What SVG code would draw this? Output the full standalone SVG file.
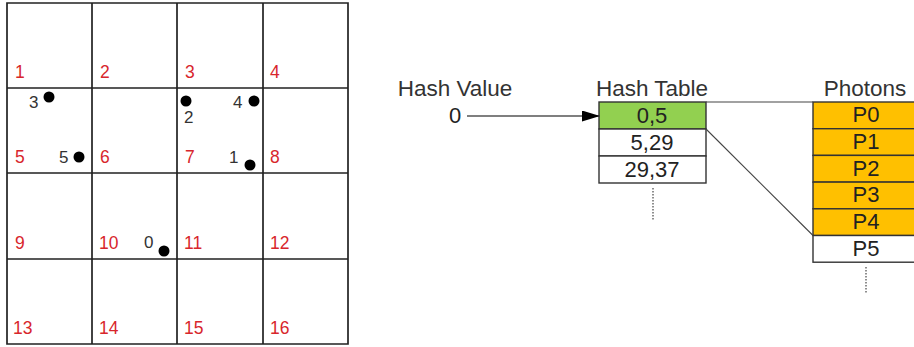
<svg xmlns="http://www.w3.org/2000/svg" width="914" height="347" viewBox="0 0 914 347">
  <defs>
    <style>
      text { font-family: "Liberation Sans", Arial, sans-serif; }
      .grid { stroke: #222; stroke-width: 1.7; fill: none; }
      .cell { fill: #d8262c; font-size: 17.5px; }
      .plabel { fill: #333; font-size: 17px; }
      .dot { fill: #000; }
      .head { fill: #333; font-size: 22.5px; text-anchor: middle; }
      .val { fill: #222; font-size: 22px; text-anchor: middle; }
      .box { stroke: #333; stroke-width: 1.4; }
      .link { stroke: #444; stroke-width: 1.1; fill: none; }
      .dots { stroke: #444; stroke-width: 1.2; stroke-dasharray: 1.5 1.5; fill: none; }
    </style>
    <marker id="arrow" viewBox="0 0 18 11" refX="18" refY="5.5" markerWidth="18" markerHeight="11" markerUnits="userSpaceOnUse" orient="auto">
      <path d="M0,0 L18,5.5 L0,11 Z" fill="#000"/>
    </marker>
  </defs>
  <rect width="914" height="347" fill="#fff"/>

  <!-- 4x4 spatial grid -->
  <g id="grid">
    <path class="grid" d="M7,3 H348 V344 H7 Z M92,3 V344 M177,3 V344 M263,3 V344 M7,88 H348 M7,173 H348 M7,259 H348"/>
    <text class="cell" x="15" y="78">1</text>
    <text class="cell" x="100" y="78">2</text>
    <text class="cell" x="185" y="78">3</text>
    <text class="cell" x="270" y="78">4</text>
    <text class="cell" x="15" y="163">5</text>
    <text class="cell" x="100" y="163">6</text>
    <text class="cell" x="185" y="163">7</text>
    <text class="cell" x="270" y="163">8</text>
    <text class="cell" x="15" y="249">9</text>
    <text class="cell" x="99" y="249">10</text>
    <text class="cell" x="184" y="249">11</text>
    <text class="cell" x="270" y="249">12</text>
    <text class="cell" x="13" y="334">13</text>
    <text class="cell" x="99" y="334">14</text>
    <text class="cell" x="184" y="334">15</text>
    <text class="cell" x="270" y="334">16</text>
  </g>

  <!-- photons placed in the grid -->
  <g id="photon-0"><circle class="dot" cx="164" cy="251" r="5.5"/><text class="plabel" x="144" y="248">0</text></g>
  <g id="photon-1"><circle class="dot" cx="250" cy="165" r="5.5"/><text class="plabel" x="229" y="163">1</text></g>
  <g id="photon-2"><circle class="dot" cx="186" cy="101" r="5.5"/><text class="plabel" x="184" y="123">2</text></g>
  <g id="photon-3"><circle class="dot" cx="49" cy="97" r="5.5"/><text class="plabel" x="29" y="108">3</text></g>
  <g id="photon-4"><circle class="dot" cx="254" cy="101" r="5.5"/><text class="plabel" x="233" y="108">4</text></g>
  <g id="photon-5"><circle class="dot" cx="79" cy="157" r="5.5"/><text class="plabel" x="59" y="163">5</text></g>

  <!-- hash value -->
  <g id="hash-value">
    <text class="head" x="455" y="96">Hash Value</text>
    <text class="val" x="455" y="123">0</text>
  </g>

  <!-- hash table -->
  <g id="hash-table">
    <text class="head" x="652" y="96">Hash Table</text>
    <rect class="box" x="599" y="102" width="107" height="27" fill="#92d050"/>
    <rect class="box" x="599" y="129" width="107" height="27" fill="#fff"/>
    <rect class="box" x="599" y="156" width="107" height="27" fill="#fff"/>
    <text class="val" x="652" y="123">0,5</text>
    <text class="val" x="652" y="150">5,29</text>
    <text class="val" x="652" y="177">29,37</text>
    <line class="dots" x1="653" y1="188" x2="653" y2="220"/>
  </g>

  <!-- photon array -->
  <g id="photons">
    <text class="head" x="865" y="96">Photons</text>
    <rect class="box" x="813" y="102" width="106" height="26.7" fill="#ffc000"/>
    <rect class="box" x="813" y="128.7" width="106" height="26.7" fill="#ffc000"/>
    <rect class="box" x="813" y="155.4" width="106" height="26.7" fill="#ffc000"/>
    <rect class="box" x="813" y="182.1" width="106" height="26.7" fill="#ffc000"/>
    <rect class="box" x="813" y="208.8" width="106" height="26.7" fill="#ffc000"/>
    <rect class="box" x="813" y="235.5" width="106" height="26.7" fill="#fff"/>
    <text class="val" x="866" y="122">P0</text>
    <text class="val" x="866" y="149">P1</text>
    <text class="val" x="866" y="176">P2</text>
    <text class="val" x="866" y="202">P3</text>
    <text class="val" x="866" y="229">P4</text>
    <text class="val" x="866" y="256">P5</text>
    <line class="dots" x1="866" y1="267" x2="866" y2="293"/>
  </g>

  <!-- connectors -->
  <g id="connectors">
    <line x1="467" y1="116" x2="600" y2="116" stroke="#555" stroke-width="1.6" marker-end="url(#arrow)"/>
    <line class="link" x1="706" y1="102" x2="813" y2="102"/>
    <line class="link" x1="706" y1="129" x2="813" y2="235.5"/>
  </g>
</svg>
